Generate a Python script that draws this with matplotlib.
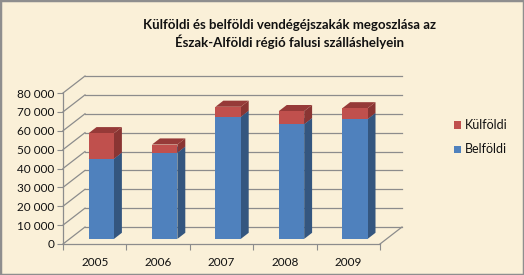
import matplotlib.pyplot as plt
from matplotlib.patches import Polygon, Rectangle

years = ['2005', '2006', '2007', '2008', '2009']
belfoldi = [42500, 45700, 64700, 60800, 63500]
kulfoldi = [13500, 4300, 5300, 6900, 5700]
yticks = [0, 10000, 20000, 30000, 40000, 50000, 60000, 70000, 80000]
ytick_labels = ['0', '10 000', '20 000', '30 000', '40 000',
                '50 000', '60 000', '70 000', '80 000']

plt.rcParams['font.family'] = ['Lato', 'DejaVu Sans']

bg = '#FAF0D8'
grid_c = '#8C8C8C'
DX, DY = 0.347, 9000.0   # full depth offset (category units, value units)
F0, F1 = 0.30, 0.66      # bar front / back depth fractions
W = 0.40                 # bar width

fig = plt.figure(figsize=(5.24, 2.75), dpi=100, facecolor=bg)
fig.patches.append(Rectangle((0, 0), 1, 1, transform=fig.transFigure,
                             fill=False, edgecolor='#8E8E8E', linewidth=2.5))

ax = fig.add_axes([63 / 524, 31 / 275, 317 / 524, 151 / 275])
ax.set_facecolor('none')
ax.set_xlim(0, len(years))
ax.set_ylim(0, 80000)
for s in ax.spines.values():
    s.set_visible(False)

n = len(years)
# back wall gridlines and diagonals
for v in yticks:
    ax.plot([DX, n + DX], [v + DY, v + DY], color=grid_c, lw=0.9, clip_on=False, zorder=1)
    ax.plot([0, DX], [v, v + DY], color=grid_c, lw=0.9, clip_on=False, zorder=1)
# floor right edge and front edges
ax.plot([n, n + DX], [0, DY], color=grid_c, lw=0.9, clip_on=False, zorder=1)
ax.plot([0, n], [0, 0], color=grid_c, lw=0.9, clip_on=False, zorder=1)
ax.plot([0, 0], [0, 80000], color=grid_c, lw=0.9, clip_on=False, zorder=1)


def box(x0, y0, y1, front, side, top):
    x1 = x0 + W
    ax0, ay = DX * F0, DY * F0
    bx, by = DX * F1, DY * F1
    f = [(x0 + ax0, y0 + ay), (x1 + ax0, y0 + ay), (x1 + ax0, y1 + ay), (x0 + ax0, y1 + ay)]
    sd = [(x1 + ax0, y0 + ay), (x1 + bx, y0 + by), (x1 + bx, y1 + by), (x1 + ax0, y1 + ay)]
    tp = [(x0 + ax0, y1 + ay), (x1 + ax0, y1 + ay), (x1 + bx, y1 + by), (x0 + bx, y1 + by)]
    for pts, c in ((sd, side), (tp, top), (f, front)):
        ax.add_patch(Polygon(pts, closed=True, facecolor=c, edgecolor='none',
                             clip_on=False, zorder=3))


for i, (b, k) in enumerate(zip(belfoldi, kulfoldi)):
    x0 = i + 0.5 - W / 2
    box(x0, 0, b, '#4F81BD', '#34567F', '#3F6A9E')
    box(x0, b, b + k, '#C0504D', '#8A3533', '#963A38')

ax.set_yticks(yticks)
ax.set_yticklabels(ytick_labels)
ax.set_xticks([i for i in range(n + 1)])
ax.set_xticklabels([])
ax.set_xticks([i + 0.5 for i in range(n)], minor=True)
ax.set_xticklabels(years, minor=True)
ax.tick_params(axis='y', length=4, color=grid_c, labelsize=8.5, pad=2, labelcolor='#111111')
ax.tick_params(axis='x', which='major', length=4, color=grid_c)
ax.tick_params(axis='x', which='minor', length=0, labelsize=8.5, pad=9, labelcolor='#111111')

fig.text(0.553, 1 - 34 / 275, 'Külföldi és belföldi vendégéjszakák megoszlása az\nÉszak-Alföldi régió falusi szálláshelyein',
         ha='center', va='center', fontsize=9.5, fontweight='bold', linespacing=1.3, color='#111111')

# legend
for yy, c, lab in ((125, '#C0504D', 'Külföldi'), (149, '#4F81BD', 'Belföldi')):
    fig.patches.append(Rectangle((454 / 524, 1 - (yy + 3.5) / 275), 7 / 524, 7 / 275,
                                 transform=fig.transFigure, facecolor=c, edgecolor='none'))
    fig.text(465 / 524, 1 - yy / 275, lab, ha='left', va='center', fontsize=9, color='#111111')

fig.savefig('out.png', dpi=100, facecolor=bg)
